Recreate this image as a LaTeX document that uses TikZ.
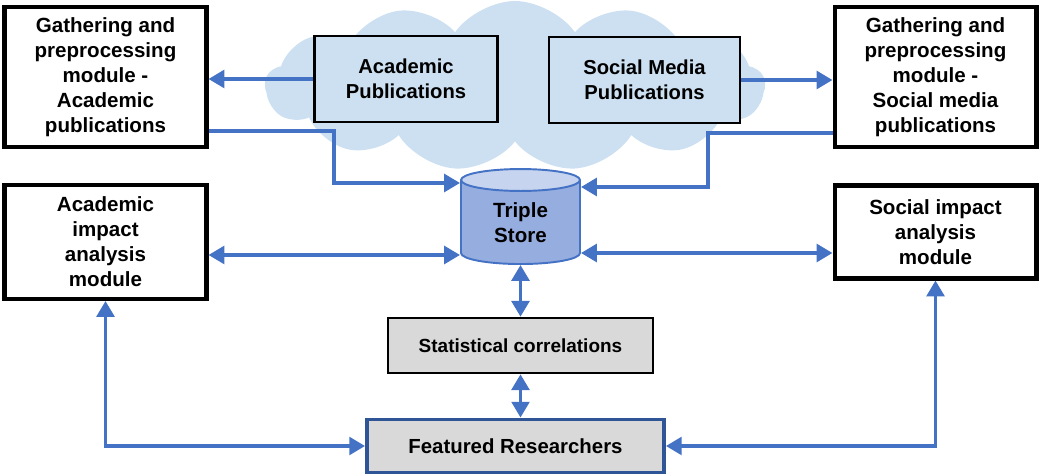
\documentclass[tikz,border=0pt]{standalone}
\usepackage{fontspec}
\setmainfont{Liberation Sans}
\usetikzlibrary{arrows.meta,positioning,shapes.geometric,shapes.symbols,calc}
\definecolor{flowblue}{RGB}{68,114,196}
\definecolor{darkblue}{RGB}{47,85,151}
\definecolor{cloudblue}{RGB}{205,224,241}
\definecolor{boxgray}{RGB}{217,217,217}
\definecolor{cylbody}{RGB}{150,173,223}
\definecolor{cyltop}{RGB}{198,212,239}
\tikzset{
  >={Triangle[length=9pt,width=10pt]},
  modbox/.style={draw=black,line width=2.3pt,fill=white,align=center,inner sep=0pt,
    font=\bfseries\fontsize{11.7}{14.2}\selectfont},
  pubbox/.style={draw=black,line width=1.4pt,fill=cloudblue,align=center,inner sep=0pt,
    minimum height=1.72cm,font=\bfseries\fontsize{11.5}{14}\selectfont},
  graybox/.style={draw=#1,fill=boxgray,align=center,inner sep=0pt},
  graybox/.default=black,
  flow/.style={->,line width=2.1pt,draw=flowblue},
  dflow/.style={<->,line width=2.1pt,draw=flowblue},
  store/.style={cylinder,shape border rotate=90,aspect=0.4,draw=flowblue,line width=1.1pt,
    cylinder uses custom fill,cylinder body fill=cylbody,cylinder end fill=cyltop,
    align=center,inner sep=0pt,font=\bfseries\fontsize{11.7}{14.2}\selectfont},
}
\begin{document}
\begin{tikzpicture}[x=0.02cm,y=-0.02cm]
  \useasboundingbox (0,0) rectangle (1041,475);
  % source cloud
  \node[cloud,cloud puffs=13,cloud puff arc=110,aspect=3,fill=cloudblue,
    minimum width=10cm,minimum height=3.4cm] (cld) at (515,86) {};
  \node[pubbox,minimum width=3.66cm] (acadPub) at (406,79) {Academic\\Publications};
  \node[pubbox,minimum width=3.82cm] (socPub) at (644.5,80) {Social Media\\Publications};

  % modules
  \node[modbox,minimum width=4.04cm,minimum height=2.8cm] (gathA) at (105.5,77)
    {Gathering and\\preprocessing\\module -\\Academic\\publications};
  \node[modbox,minimum width=4.04cm,minimum height=2.8cm] (gathS) at (935.5,77)
    {Gathering and\\preprocessing\\module -\\Social media\\publications};
  \node[modbox,minimum width=4.04cm,minimum height=2.28cm] (acadImp) at (105.5,242)
    {Academic\\impact\\analysis\\module};
  \node[modbox,minimum width=4.04cm,minimum height=1.86cm] (socImp) at (935.5,232)
    {Social impact\\analysis\\module};

  \node[store,minimum width=2.38cm,minimum height=1.9cm] (ts) at (520.5,222.5) {Triple\\Store};
  \node[graybox,line width=1.4pt,minimum width=5.3cm,minimum height=1.1cm,
    font=\bfseries\fontsize{10.8}{13}\selectfont] (stat) at (520.5,345.5) {Statistical correlations};
  \node[graybox=darkblue,line width=2.2pt,minimum width=5.94cm,minimum height=1.06cm,
    font=\bfseries\fontsize{11.6}{14}\selectfont] (feat) at (515.5,446) {Featured Researchers};

  \coordinate (bendA) at (334,131);
  \coordinate (bendS) at (708,133);
  \coordinate (tA) at (0,183);
  \coordinate (tS) at (0,187);
  \coordinate (lA) at (0,255);
  \coordinate (lS) at (0,253);

  \draw[flow] (acadPub.west) -- (acadPub.west -| gathA.east);
  \draw[flow] (socPub.east) -- (socPub.east -| gathS.west);
  \draw[flow] (gathA.east |- bendA) -- (bendA) |- (ts.west |- tA);
  \draw[flow] (gathS.west |- bendS) -- (bendS) |- (ts.east |- tS);
  \draw[dflow] (acadImp.east |- lA) -- (ts.west |- lA);
  \draw[dflow] (ts.east |- lS) -- (socImp.west |- lS);
  \draw[dflow] (ts.south) -- (stat.north);
  \draw[dflow] (stat.south) -- (stat.south |- feat.north);
  \draw[dflow] (feat.west) -| (acadImp.south);
  \draw[dflow] (feat.east) -| (socImp.south);
\end{tikzpicture}
\end{document}
